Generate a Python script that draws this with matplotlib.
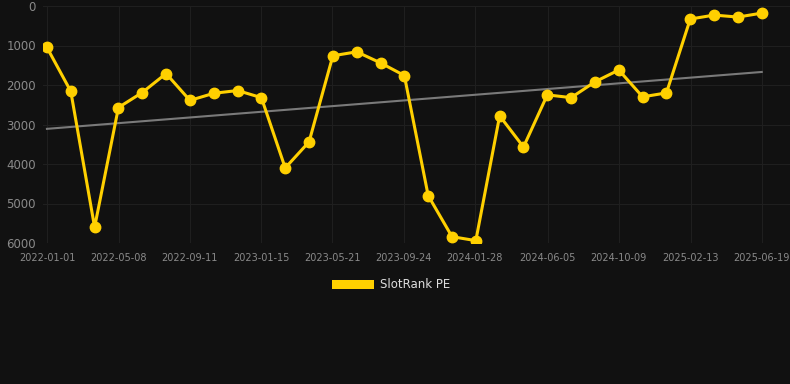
import numpy as np
import pandas as pd
import matplotlib.pyplot as plt
import matplotlib.dates as mdates
from matplotlib.patches import Patch

# SlotRank PE rank over time (lower = better, axis inverted)
start_date = "2022-01-01"
end_date = "2025-06-19"
ranks = [1050, 2160, 5600, 2570, 2190, 1710, 2390, 2210, 2140, 2320,
         4100, 3440, 1260, 1160, 1440, 1760, 4800, 5840, 5940, 2780,
         3570, 2250, 2320, 1920, 1620, 2300, 2200, 330, 230, 280, 180]
trend_ends = [3110, 1670]
tick_labels = ["2022-01-01", "2022-05-08", "2022-09-11", "2023-01-15",
               "2023-05-21", "2023-09-24", "2024-01-28", "2024-06-05",
               "2024-10-09", "2025-02-13", "2025-06-19"]

dates = pd.date_range(start_date, end_date, periods=len(ranks))
tick_dates = pd.to_datetime(tick_labels)

bg = "#111111"
fig = plt.figure(figsize=(7.9, 3.84), dpi=100, facecolor=bg)
ax = fig.add_axes([43 / 790, 1 - 243 / 384, 1 - 43 / 790, (243 - 6) / 384])
ax.set_facecolor(bg)

# trend line
ax.plot([dates[0], dates[-1]], trend_ends, color="#7a7a7a", lw=1.5, zorder=2)

ax.plot(dates, ranks, color="#FFD000", lw=2.2, marker="o", markersize=7.5,
        zorder=3)

ax.set_ylim(6000, 0)
ax.set_yticks(range(0, 6001, 1000))
ax.set_xlim(dates[0] - pd.Timedelta(days=7), dates[-1] + pd.Timedelta(days=50))
ax.set_xticks(tick_dates)
ax.set_xticklabels(tick_labels)

ax.grid(True, color="#1f1f1f", lw=0.8)
ax.set_axisbelow(True)
for s in ax.spines.values():
    s.set_visible(False)
ax.tick_params(axis="y", length=0, labelsize=8.5, colors="#8a8a8a", pad=5)
ax.tick_params(axis="x", length=0, labelsize=7, colors="#8a8a8a", pad=7)

handle = Patch(facecolor="#FFD000", edgecolor="none", label="SlotRank PE")
fig.legend(handles=[handle], loc="center", bbox_to_anchor=(0.495, 1 - 285 / 384),
           frameon=False, fontsize=8.5, labelcolor="#dddddd",
           handlelength=3.6, handleheight=0.9, handletextpad=0.5)

fig.savefig("out.png", dpi=100, facecolor=bg)
